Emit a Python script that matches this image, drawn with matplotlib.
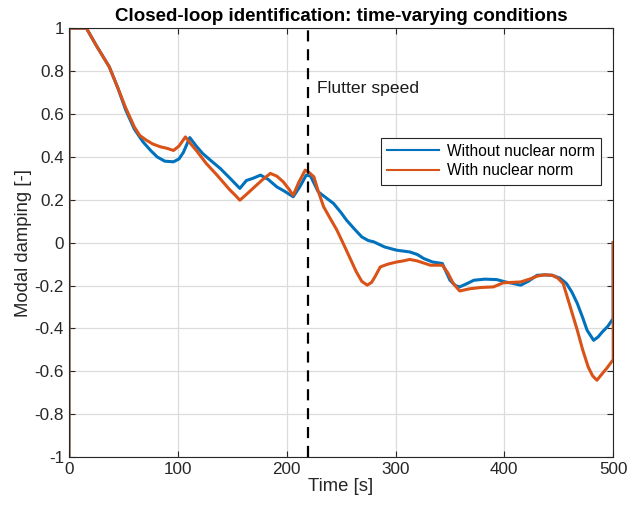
import numpy as np
import matplotlib.pyplot as plt

plt.rcParams["font.family"] = ["Liberation Sans", "DejaVu Sans"]

# Values
t_blue = [0, 0, 16, 25, 37, 45, 52, 60, 68, 75, 81, 88, 96, 101, 105, 111, 117, 123, 131, 139,
          148, 157, 163, 169, 176, 183, 191, 198, 206, 212, 218, 222, 229, 236, 243, 250, 255, 262,
          269, 275, 280, 290, 301, 313, 320, 326, 334, 343, 350, 355, 359, 366, 372, 382, 393, 401,
          408, 415, 422, 430, 437, 444, 451, 457, 462, 467, 472, 476, 482, 486, 490, 495, 500, 500]
y_blue = [-1, 1, 1, 0.92, 0.82, 0.72, 0.62, 0.53, 0.47, 0.43, 0.40, 0.38, 0.377, 0.39, 0.42, 0.49, 0.45, 0.415, 0.38, 0.346,
          0.30, 0.253, 0.29, 0.30, 0.315, 0.295, 0.26, 0.24, 0.214, 0.26, 0.315, 0.31, 0.237, 0.21, 0.183, 0.14, 0.105, 0.065,
          0.027, 0.01, 0.004, -0.02, -0.035, -0.043, -0.055, -0.074, -0.09, -0.097, -0.175, -0.20, -0.206, -0.19, -0.175, -0.17, -0.172, -0.183,
          -0.19, -0.198, -0.18, -0.152, -0.15, -0.152, -0.165, -0.19, -0.23, -0.283, -0.35, -0.408, -0.455, -0.44, -0.416, -0.39, -0.353, 0]

t_orange = [0, 0, 16, 25, 37, 45, 52, 60, 65, 71, 77, 84, 90, 96, 101, 107, 112, 117, 126, 136,
            142, 148, 153, 157, 163, 169, 177, 185, 191, 197, 202, 206, 211, 217, 220, 225, 229, 234, 240, 246,
            252, 258, 264, 269, 274, 278, 281, 286, 293, 301, 307, 313, 320, 326, 332, 343, 348, 353, 359, 368,
            378, 390, 399, 407, 415, 423, 430, 437, 444, 449, 454, 460, 467, 472, 477, 481, 485, 490, 494, 500, 500]
y_orange = [-1, 1, 1, 0.92, 0.82, 0.72, 0.63, 0.54, 0.50, 0.478, 0.46, 0.447, 0.44, 0.43, 0.45, 0.493, 0.46, 0.43, 0.37, 0.315,
            0.28, 0.245, 0.22, 0.198, 0.225, 0.253, 0.29, 0.323, 0.31, 0.283, 0.25, 0.221, 0.28, 0.338, 0.33, 0.307, 0.24, 0.167, 0.113, 0.06,
            -0.004, -0.07, -0.136, -0.18, -0.198, -0.185, -0.16, -0.113, -0.10, -0.09, -0.085, -0.078, -0.085, -0.095, -0.105, -0.105, -0.14, -0.19, -0.225, -0.215,
            -0.209, -0.206, -0.187, -0.185, -0.183, -0.17, -0.156, -0.15, -0.152, -0.165, -0.19, -0.29, -0.408, -0.50, -0.579, -0.62, -0.641, -0.61, -0.586, -0.545, 0]

flutter_t = 220
x_ticks = [0, 100, 200, 300, 400, 500]
y_ticks = [-1, -0.8, -0.6, -0.4, -0.2, 0, 0.2, 0.4, 0.6, 0.8, 1]
y_tick_labels = ["-1", "-0.8", "-0.6", "-0.4", "-0.2", "0", "0.2", "0.4", "0.6", "0.8", "1"]

fig = plt.figure(figsize=(6.27, 5.12), dpi=100)
ax = fig.add_axes([0.110, 0.107, 0.868, 0.838])

ax.plot(t_blue, y_blue, color="#0072BD", lw=2.2, label="Without nuclear norm")
ax.plot(t_orange, y_orange, color="#D95319", lw=2.2, label="With nuclear norm")
ax.plot([flutter_t, flutter_t], [-1, 1], color="black", lw=1.6, ls=(0, (5, 3.5)))
ax.text(228, 0.72, "Flutter speed", fontsize=12.6, va="center", ha="left", color="#1a1a1a")

ax.set_xlim(0, 500)
ax.set_ylim(-1, 1)
ax.set_xticks(x_ticks)
ax.set_yticks(y_ticks)
ax.set_yticklabels(y_tick_labels)
ax.tick_params(direction="in", top=True, right=True, labelsize=12.3, length=4, width=0.8, colors="#262626")
ax.grid(True, color="#dcdcdc", lw=0.9)
ax.set_axisbelow(True)
for s in ax.spines.values():
    s.set_color("#262626")
    s.set_linewidth(0.8)

ax.set_xlabel("Time [s]", fontsize=13.3, color="#262626", labelpad=1)
ax.set_ylabel("Modal damping [-]", fontsize=13.3, color="#262626", labelpad=2)
ax.set_title("Closed-loop identification: time-varying conditions", fontsize=13.5, fontweight="bold", pad=5)

leg = ax.legend(loc="upper left", bbox_to_anchor=(0.573, 0.745), borderaxespad=0, fontsize=11.2,
                frameon=True, fancybox=False, edgecolor="#262626", framealpha=1, handlelength=3.35,
                borderpad=0.4, labelspacing=0.3, handletextpad=0.5)
leg.get_frame().set_linewidth(0.8)
for line in leg.get_lines():
    line.set_linewidth(1.5)

fig.savefig("out.png", dpi=100)
